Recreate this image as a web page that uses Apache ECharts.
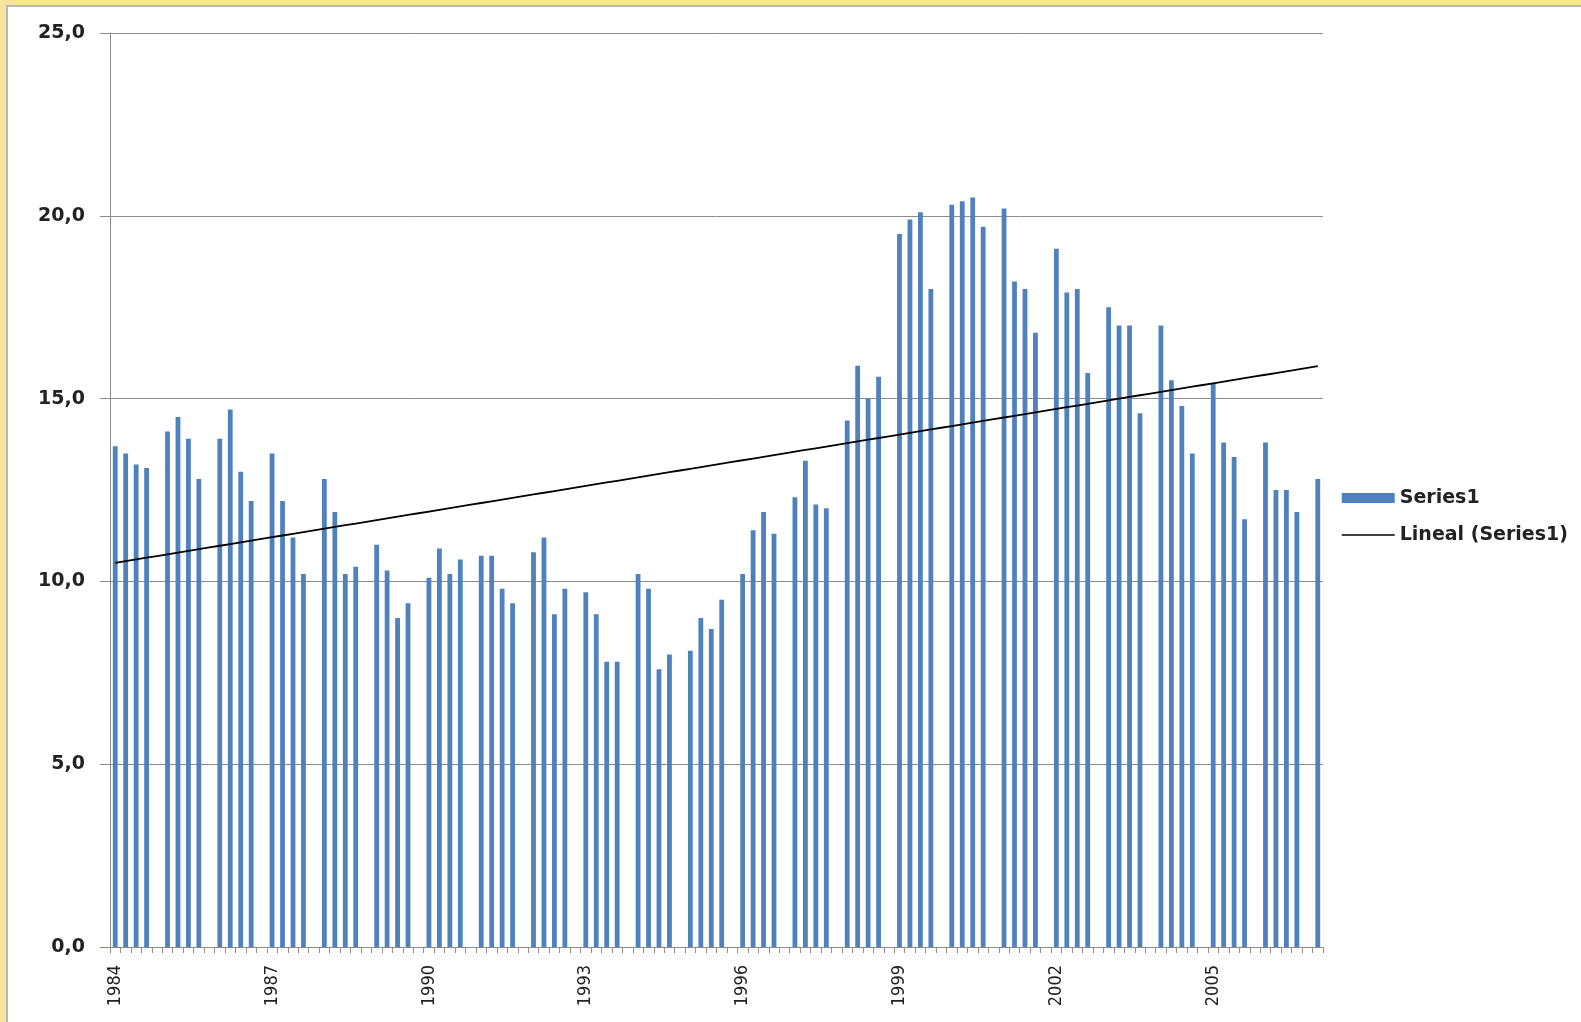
<!DOCTYPE html>
<html>
<head>
<meta charset="utf-8">
<script src="https://cdn.jsdelivr.net/npm/echarts@6/dist/echarts.min.js"></script>
<style>
html,body{margin:0;padding:0;background:#fff;}
#chart{position:absolute;left:0;top:0;width:1581px;height:1022px;}
#topband{position:absolute;left:0;top:0;width:1581px;height:5px;background:#f7e49c;}
#leftband{position:absolute;left:0;top:0;width:6px;height:1022px;background:#f7e49c;}
#topline{position:absolute;left:6px;top:5px;width:1575px;height:2px;background:#b8b8b8;}
#leftline{position:absolute;left:6px;top:5px;width:2px;height:1017px;background:#b8b8b8;}
</style>
</head>
<body>
<div id="chart"></div>
<div id="topband"></div>
<div id="leftband"></div>
<div id="topline"></div>
<div id="leftline"></div>
<script>
// ---- data (quarterly values) ----
const years = [1984,1985,1986,1987,1988,1989,1990,1991,1992,1993,1994,1995,
               1996,1997,1998,1999,2000,2001,2002,2003,2004,2005,2006,2007];
const values = [
  13.7, 13.5, 13.2, 13.1,   // 1984
  14.1, 14.5, 13.9, 12.8,   // 1985
  13.9, 14.7, 13.0, 12.2,   // 1986
  13.5, 12.2, 11.2, 10.2,   // 1987
  12.8, 11.9, 10.2, 10.4,   // 1988
  11.0, 10.3,  9.0,  9.4,   // 1989
  10.1, 10.9, 10.2, 10.6,   // 1990
  10.7, 10.7,  9.8,  9.4,   // 1991
  10.8, 11.2,  9.1,  9.8,   // 1992
   9.7,  9.1,  7.8,  7.8,   // 1993
  10.2,  9.8,  7.6,  8.0,   // 1994
   8.1,  9.0,  8.7,  9.5,   // 1995
  10.2, 11.4, 11.9, 11.3,   // 1996
  12.3, 13.3, 12.1, 12.0,   // 1997
  14.4, 15.9, 15.0, 15.6,   // 1998
  19.5, 19.9, 20.1, 18.0,   // 1999
  20.3, 20.4, 20.5, 19.7,   // 2000
  20.2, 18.2, 18.0, 16.8,   // 2001
  19.1, 17.9, 18.0, 15.7,   // 2002
  17.5, 17.0, 17.0, 14.6,   // 2003
  17.0, 15.5, 14.8, 13.5,   // 2004
  15.4, 13.8, 13.4, 11.7,   // 2005
  13.8, 12.5, 12.5, 11.9,   // 2006
  12.8                      // 2007
];
const seriesName = 'Series1';
const trendName = 'Lineal (Series1)';
const yMin = 0, yMax = 25, yStep = 5;

// ---- build categories: 4 quarters + one empty slot per year ----
const categories = [];
const barData = [];
let k = 0;
years.forEach(function (y) {
  const n = Math.min(4, values.length - k);
  for (let q = 0; q < n; q++) {
    categories.push(q === 0 ? String(y) : y + '-T' + (q + 1));
    barData.push(values[k++]);
  }
  if (k < values.length) { categories.push(y + '-x'); barData.push(null); }
});

// ---- linear trendline (least squares over category positions) ----
let sx = 0, sy = 0, sxx = 0, sxy = 0, n = 0;
barData.forEach(function (v, i) {
  if (v == null) return;
  const x = i + 1;
  sx += x; sy += v; sxx += x * x; sxy += x * v; n++;
});
const slope = (n * sxy - sx * sy) / (n * sxx - sx * sx);
const intercept = (sy - slope * sx) / n;
const trend = categories.map(function (_, i) { return intercept + slope * (i + 1); });

const chart = echarts.init(document.getElementById('chart'), null, {renderer: 'canvas'});
chart.setOption({
  animation: false,
  backgroundColor: 'transparent',
  grid: {left: 110, right: 258, top: 33, bottom: 75, containLabel: false},
  legend: {
    orient: 'vertical',
    left: 1336, top: 483,
    itemWidth: 53, itemHeight: 10, itemGap: 17,
    selectedMode: false,
    data: [
      {name: seriesName, icon: 'rect'},
      {name: trendName, itemStyle: {opacity: 0, color: 'rgba(0,0,0,0)', borderWidth: 0}}
    ],
    lineStyle: {width: 1.5, color: '#000'},
    textStyle: {fontFamily: 'DejaVu Sans', fontWeight: 'bold', fontSize: 19, color: '#222', lineHeight: 20}
  },
  xAxis: {
    type: 'category',
    data: categories,
    boundaryGap: true,
    axisLine: {show: true, lineStyle: {color: '#8a8a8a', width: 1}},
    axisTick: {show: true, interval: 0, length: 6, lineStyle: {color: '#9a9080'}},
    splitLine: {show: false},
    axisLabel: {
      interval: 14, rotate: 90, margin: 18,
      fontFamily: "'DejaVu Sans Condensed', 'Liberation Sans Narrow', sans-serif",
      fontSize: 18, color: '#222',
      formatter: function (v) { return /^\d{4}$/.test(v) ? v : ''; }
    }
  },
  yAxis: {
    type: 'value',
    min: yMin, max: yMax, interval: yStep,
    axisLine: {show: true, lineStyle: {color: '#8a8a8a', width: 1}},
    axisTick: {show: true, length: 10, lineStyle: {color: '#8a8a8a'}},
    splitLine: {show: true, lineStyle: {color: '#8c8c8c', width: 1}},
    axisLabel: {
      margin: 25, fontFamily: 'DejaVu Sans', fontWeight: 'bold', fontSize: 19, color: '#222',
      formatter: function (v) { return v.toFixed(1).replace('.', ','); }
    }
  },
  series: [
    {
      name: seriesName, type: 'bar', data: barData,
      barWidth: 4.8,
      itemStyle: {color: '#4f81bd'},
      z: 2
    },
    {
      name: trendName, type: 'line', data: trend,
      symbol: 'none', showSymbol: false,
      lineStyle: {color: '#000', width: 1.8},
      itemStyle: {color: '#000'},
      z: 3
    }
  ]
});
</script>
</body>
</html>
